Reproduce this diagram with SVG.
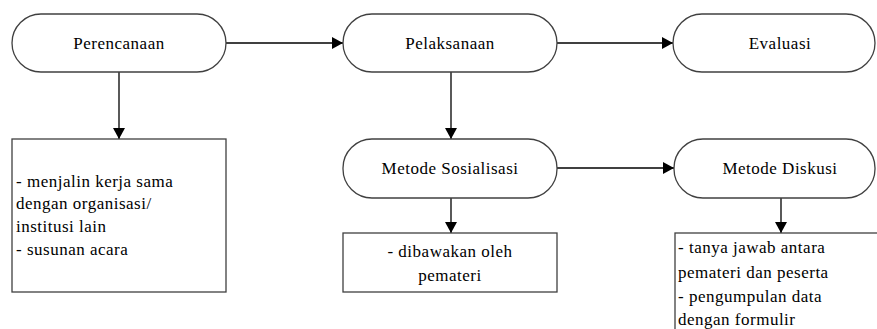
<svg xmlns="http://www.w3.org/2000/svg" width="877" height="329" viewBox="0 0 877 329">
<style>
.n{fill:#fff;stroke:#404040;stroke-width:1.3}
.c{stroke:#000;stroke-width:1.3;fill:none}
.t{font-family:"Liberation Serif",serif;font-size:17px;letter-spacing:0.5px;fill:#000}
.m{text-anchor:middle}
</style>
<defs>
<marker id="ah" markerWidth="12" markerHeight="12" refX="11" refY="6" orient="auto" markerUnits="userSpaceOnUse">
<path d="M0,0 L11,6 L0,12 Z" fill="#000"/>
</marker>
</defs>
<rect width="877" height="329" fill="#fff"/>
<g id="connectors">
<line class="c" x1="226" y1="43" x2="343" y2="43" marker-end="url(#ah)"/>
<line class="c" x1="557" y1="43" x2="673" y2="43" marker-end="url(#ah)"/>
<line class="c" x1="119" y1="72" x2="119" y2="139" marker-end="url(#ah)"/>
<line class="c" x1="451" y1="72" x2="451" y2="139" marker-end="url(#ah)"/>
<line class="c" x1="557" y1="168" x2="674" y2="168" marker-end="url(#ah)"/>
<line class="c" x1="451" y1="198" x2="451" y2="233" marker-end="url(#ah)"/>
<line class="c" x1="781" y1="198" x2="781" y2="233" marker-end="url(#ah)"/>
</g>
<g id="perencanaan">
<rect class="n" x="12" y="14" width="214" height="58" rx="29"/>
<text class="t m" x="119" y="49">Perencanaan</text>
</g>
<g id="pelaksanaan">
<rect class="n" x="343" y="14" width="214" height="58" rx="29"/>
<text class="t m" x="450" y="49">Pelaksanaan</text>
</g>
<g id="evaluasi">
<rect class="n" x="673" y="14" width="202" height="58" rx="29"/>
<text class="t m" x="780" y="49">Evaluasi</text>
</g>
<g id="box-perencanaan">
<rect class="n" x="12" y="139" width="214" height="153"/>
<text class="t" x="16" y="187">- menjalin kerja sama</text>
<text class="t" x="16" y="209">dengan organisasi/</text>
<text class="t" x="16" y="232">institusi lain</text>
<text class="t" x="16" y="255">- susunan acara</text>
</g>
<g id="metode-sosialisasi">
<rect class="n" x="343" y="139" width="214" height="59" rx="29"/>
<text class="t m" x="450" y="174">Metode Sosialisasi</text>
</g>
<g id="box-sosialisasi">
<rect class="n" x="343" y="233" width="214" height="59"/>
<text class="t m" x="450" y="257">- dibawakan oleh</text>
<text class="t m" x="450" y="281">pemateri</text>
</g>
<g id="metode-diskusi">
<rect class="n" x="674" y="139" width="201" height="59" rx="29"/>
<text class="t m" x="780" y="174">Metode Diskusi</text>
</g>
<g id="box-diskusi">
<rect class="n" x="675" y="233" width="210" height="110"/>
<text class="t" x="678" y="253">- tanya jawab antara</text>
<text class="t" x="678" y="278">pemateri dan peserta</text>
<text class="t" x="678" y="302">- pengumpulan data</text>
<text class="t" x="678" y="325">dengan formulir</text>
</g>
</svg>
